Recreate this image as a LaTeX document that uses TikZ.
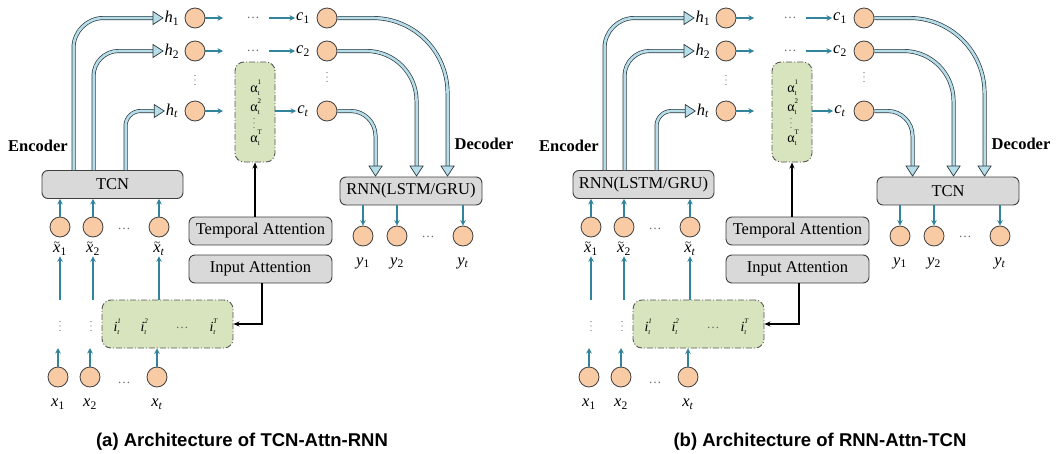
\documentclass[tikz,border=0pt]{standalone}
\usepackage{fontspec}
\setmainfont{Liberation Serif}
\newfontfamily\capfont{Liberation Sans}
\usetikzlibrary{arrows.meta,calc}

\definecolor{peach}{HTML}{F9CBA5}
\definecolor{edge}{HTML}{3F3F3F}
\definecolor{tealarr}{HTML}{31849B}
\definecolor{tubefill}{HTML}{B7DDE8}
\definecolor{tubeedge}{HTML}{2B3A42}
\definecolor{boxgray}{HTML}{D9D9D9}
\definecolor{attgreen}{HTML}{D7E4BD}

% variable with an upright or italic subscript
\newcommand\var[2]{\textit{#1}\textsubscript{#2}}
% x with a tilde above it
\newcommand\tildex{\ooalign{\textit{x}\cr\hidewidth\raisebox{0.38em}{\fontsize{11}{11}\selectfont\textasciitilde}\hidewidth\cr}}
% attention weight alpha_t^k
\newcommand\att[1]{α\rlap{\raisebox{0.55em}{\fontsize{7}{7}\selectfont #1}}\raisebox{-0.25em}{\fontsize{7}{7}\selectfont t}}
% input weight i_t^k
\newcommand\inp[1]{\textit{i}\rlap{\raisebox{0.55em}{\fontsize{7}{7}\selectfont\itshape #1}}\raisebox{-0.25em}{\fontsize{7}{7}\selectfont\itshape t}\kern1pt}
% column of three small dots centred on a point
\newcommand\dotcol[1]{\fill[black!60] ($(#1)+(0,-4.5)$) circle (0.7) (#1) circle (0.7) ($(#1)+(0,4.5)$) circle (0.7);}

\tikzset{
  unit/.style={circle, minimum size=20pt, inner sep=0pt, fill=peach, draw=edge, line width=0.8pt},
  blockbox/.style={rounded corners=6pt, fill=boxgray, draw=edge, line width=0.9pt,
    minimum height=28pt, inner sep=0pt, font=\fontsize{16.5}{18}\selectfont},
  attbox/.style={rounded corners=9pt, fill=attgreen, draw=black!65, line width=0.9pt,
    dash pattern=on 6pt off 2pt on 1pt off 2pt},
  lbl/.style={inner sep=1pt, font=\fontsize{16.5}{18}\selectfont},
  small/.style={inner sep=0pt, font=\fontsize{14}{15}\selectfont},
  sidelbl/.style={inner sep=0pt, font=\fontsize{16.5}{18}\selectfont\bfseries},
  gap/.style={inner sep=0pt, text=black!60, font=\fontsize{13}{14}\selectfont},
  flow/.style={draw=tealarr, line width=1.3pt, -{Stealth[length=5.5pt,width=5.5pt]}},
  ctrl/.style={draw=black, line width=1.5pt, -{Stealth[length=6pt,width=5pt]}},
  tube/.style={draw=tubeedge, line width=0.7pt, double=tubefill, double distance=2.6pt},
  tubehead/.style={fill=tubefill, draw=tubeedge, line width=0.7pt, line join=miter},
  caption/.style={inner sep=0pt, font=\capfont\bfseries\fontsize{18.5}{20}\selectfont},
}

% hollow arrow heads of the wide connectors
\newcommand\headright[1]{\filldraw[tubehead] (#1) -- ++(-10,-6.5) -- ++(0,13) -- cycle;}
\newcommand\headdown[1]{\filldraw[tubehead] (#1) -- ++(-6.5,-10) -- ++(13,0) -- cycle;}

% one encoder--attention--decoder architecture
% #1 name prefix, #2 shift of encoder half, #3 shift of decoder half,
% #4 encoder block, #5 decoder block
\newcommand\archpanel[5]{%
  \begin{scope}[xshift=#2pt]
    \node[blockbox, minimum width=141pt] (#1enc) at (112.5,184.5) {#4};
    \node[sidelbl] (#1encl) at (38,146) {Encoder};
    % hidden states
    \node[lbl] (#1h1l) at (172,18) {\var{h}{1}};
    \node[lbl] (#1h2l) at (172,51) {\var{h}{2}};
    \node[lbl] (#1htl) at (172,111) {\var{h}{\textit{t}}};
    \node[unit] (#1h1c) at (195,18) {};
    \node[unit] (#1h2c) at (195,51) {};
    \node[unit] (#1htc) at (195,111) {};
    \coordinate (#1hv) at (195,80);
    \dotcol{#1hv}
    \coordinate (#1h1e) at (223,18);
    \coordinate (#1h2e) at (223,51);
    \coordinate (#1hte) at (223,111);
    % attended inputs
    \node[unit] (#1xt1c) at (60,227) {};
    \node[unit] (#1xt2c) at (93,227) {};
    \node[unit] (#1xt3c) at (159,227) {};
    \node[gap] (#1xtd) at (124,229) {\dots};
    \node[lbl] (#1xt1l) at (60,250) {\tildex\textsubscript{1}};
    \node[lbl] (#1xt2l) at (93,250) {\tildex\textsubscript{2}};
    \node[lbl] (#1xt3l) at (159,250) {\tildex\textsubscript{\textit{t}}};
    \coordinate (#1u1) at (60,300);
    \coordinate (#1u2) at (93,300);
    \coordinate (#1v1) at (60,326);
    \coordinate (#1v2) at (91,326);
    % input attention weights
    \node[attbox, minimum width=131pt, minimum height=48pt] (#1ibox) at (167.5,324) {};
    \node[small] (#1i1) at (117,327) {\inp{1}};
    \node[small] (#1i2) at (144,327) {\inp{2}};
    \node[gap] (#1id) at (182,328) {\dots};
    \node[small] (#1iT) at (213,327) {\inp{T}};
    \dotcol{#1v1}
    \dotcol{#1v2}
    % raw inputs
    \node[unit] (#1x1c) at (58,377) {};
    \node[unit] (#1x2c) at (90,377) {};
    \node[unit] (#1x3c) at (157,377) {};
    \node[gap] (#1xd) at (124,383) {\dots};
    \node[lbl] (#1x1l) at (58,404) {\var{x}{1}};
    \node[lbl] (#1x2l) at (90,404) {\var{x}{2}};
    \node[lbl] (#1x3l) at (157,404) {\var{x}{\textit{t}}};
    \coordinate (#1x1e) at (58,348);
    \coordinate (#1x2e) at (90,348);
  \end{scope}
  \begin{scope}[xshift=#3pt]
    % temporal attention weights
    \node[attbox, minimum width=40pt, minimum height=100pt] (#1abox) at (255,112) {};
    \node[small] (#1a1) at (255,88) {\att{1}};
    \node[small] (#1a2) at (255,107) {\att{2}};
    \coordinate (#1av) at (254,123);
    \dotcol{#1av}
    \node[small] (#1aT) at (255,138) {\att{T}};
    \node[gap] (#1d1) at (253,18) {\dots};
    \node[gap] (#1d2) at (253,51) {\dots};
    \coordinate (#1c1s) at (269,18);
    \coordinate (#1c2s) at (269,51);
    % context vectors
    \node[lbl] (#1c1l) at (303,18) {\var{c}{1}};
    \node[lbl] (#1c2l) at (303,51) {\var{c}{2}};
    \node[lbl] (#1ctl) at (303,111) {\var{c}{\textit{t}}};
    \node[unit] (#1c1c) at (327,18) {};
    \node[unit] (#1c2c) at (327,51) {};
    \node[unit] (#1ctc) at (327,111) {};
    \coordinate (#1cv) at (327,77);
    \dotcol{#1cv}
    % attention blocks
    \node[blockbox, minimum width=143pt] (#1tatt) at (260.5,231) {Temporal Attention};
    \node[blockbox, minimum width=143pt] (#1iatt) at (260.5,269) {Input Attention};
    % decoder
    \node[blockbox, minimum width=142pt] (#1dec) at (411,191) {#5};
    \node[sidelbl] (#1decl) at (484,144) {Decoder};
    \node[unit] (#1y1c) at (363,236) {};
    \node[unit] (#1y2c) at (397,236) {};
    \node[unit] (#1y3c) at (463,236) {};
    \node[gap] (#1yd) at (428,237) {\dots};
    \node[lbl] (#1y1l) at (363,263) {\var{y}{1}};
    \node[lbl] (#1y2l) at (397,263) {\var{y}{2}};
    \node[lbl] (#1y3l) at (463,263) {\var{y}{\textit{t}}};
  \end{scope}
  % encoder outputs to hidden states
  \draw[tube, rounded corners=30pt] ($(#1enc.north west)+(32,0)$) |- ($(#1h1l.west)+(-9,0)$);
  \headright{$(#1h1l.west)+(-0.5,0)$}
  \draw[tube, rounded corners=25pt] ($(#1enc.north west)+(52,0)$) |- ($(#1h2l.west)+(-9,0)$);
  \headright{$(#1h2l.west)+(-0.5,0)$}
  \draw[tube, rounded corners=15pt] ($(#1enc.north west)+(84,0)$) |- ($(#1htl.west)+(-9,0)$);
  \headright{$(#1htl.west)+(-0.5,0)$}
  % context vectors to decoder
  \draw[tube, rounded corners=75pt] (#1c1c.east) -| ($(#1dec.north west)+(108,-9)$);
  \headdown{$(#1dec.north west)+(108,-0.5)$}
  \draw[tube, rounded corners=50pt] (#1c2c.east) -| ($(#1dec.north west)+(77,-9)$);
  \headdown{$(#1dec.north west)+(77,-0.5)$}
  \draw[tube, rounded corners=25pt] (#1ctc.east) -| ($(#1dec.north west)+(36,-9)$);
  \headdown{$(#1dec.north west)+(36,-0.5)$}
  % thin data-flow arrows
  \draw[flow] (#1h1c.east) -- (#1h1e);
  \draw[flow] (#1h2c.east) -- (#1h2e);
  \draw[flow] (#1htc.east) -- (#1hte);
  \draw[flow] (#1c1s) -- (#1c1l.west);
  \draw[flow] (#1c2s) -- (#1c2l.west);
  \draw[flow] (#1abox.east |- #1ctl) -- (#1ctl.west);
  \foreach \k in {1,2,3} {
    \draw[flow] (#1xt\k c.north) -- (#1xt\k c |- #1enc.south);
    \draw[flow] (#1y\k c |- #1dec.south) -- (#1y\k c.north);
  }
  \draw[flow] (#1u1) -- (#1xt1l.south);
  \draw[flow] (#1u2) -- (#1xt2l.south);
  \draw[flow] (#1ibox.north -| #1xt3l) -- (#1xt3l.south);
  \draw[flow] (#1x1c.north) -- (#1x1e);
  \draw[flow] (#1x2c.north) -- (#1x2e);
  \draw[flow] (#1x3c.north) -- (#1x3c |- #1ibox.south);
  % attention control
  \draw[ctrl] (#1tatt.north -| #1abox.south) -- (#1abox.south);
  \draw[ctrl] ([xshift=1.5pt]#1iatt.south) |- (#1ibox.east);
}

\begin{document}
\begin{tikzpicture}[x=1pt, y=-1pt]
  \fill[white] (0,0) rectangle (1060,453);
  \useasboundingbox (0,0) rectangle (1060,453);
  \archpanel{a-}{0}{0}{TCN}{RNN(LSTM/GRU)}
  \archpanel{b-}{531}{537}{RNN(LSTM/GRU)}{TCN}
  \node[caption] (capa) at (242,442) {(a) Architecture of TCN-Attn-RNN};
  \node[caption] (capb) at (820,442) {(b) Architecture of RNN-Attn-TCN};
\end{tikzpicture}
\end{document}
